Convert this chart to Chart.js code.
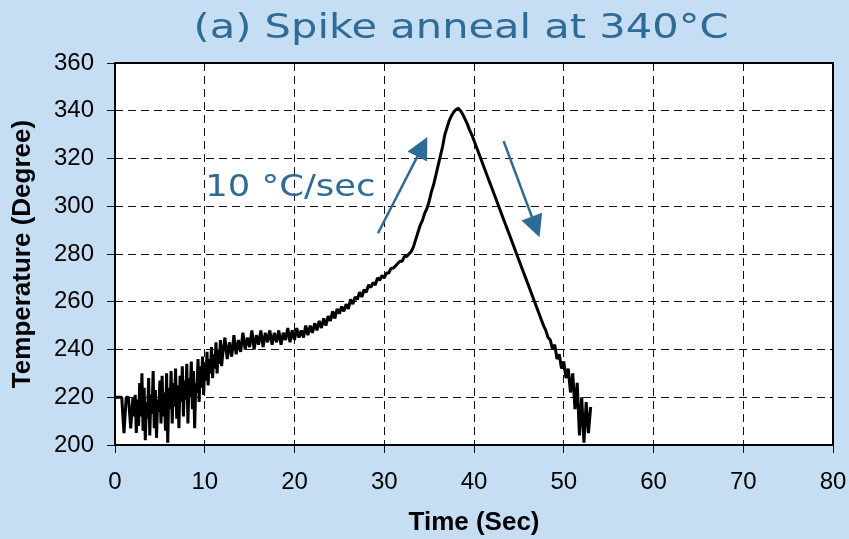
<!DOCTYPE html>
<html>
<head>
<meta charset="utf-8">
<script src="https://cdn.jsdelivr.net/npm/chart.js@4.4.1/dist/chart.umd.min.js"></script>
<style>
  html, body { margin: 0; padding: 0; background: #c6def4; }
</style>
</head>
<body>
<canvas id="spikeChart" width="849" height="539"></canvas>
<script>
const time = [
  0, 0.25, 0.5, 0.75, 1, 1.25, 1.5, 1.75,
  2, 2.125, 2.25, 2.375, 2.5, 2.625, 2.75, 2.875, 3, 3.125, 3.25, 3.375, 3.5, 3.625, 3.75, 3.875,
  4, 4.125, 4.25, 4.375, 4.5, 4.625, 4.75, 4.875, 5, 5.125, 5.25, 5.375, 5.5, 5.625, 5.75, 5.875,
  6, 6.125, 6.25, 6.375, 6.5, 6.625, 6.75, 6.875, 7, 7.125, 7.25, 7.375, 7.5, 7.625, 7.75, 7.875,
  8, 8.125, 8.25, 8.375, 8.5, 8.625, 8.75, 8.875, 9, 9.125, 9.25, 9.375, 9.5, 9.625, 9.75, 9.875,
  10, 10.125, 10.25, 10.375, 10.5, 10.625, 10.75, 10.875, 11, 11.125, 11.25, 11.375, 11.5, 11.625, 11.75, 11.875,
  12, 12.25, 12.5, 12.75, 13, 13.25, 13.5, 13.75, 14, 14.25, 14.5, 14.75, 15, 15.25, 15.5, 15.75,
  16, 16.25, 16.5, 16.75, 17, 17.25, 17.5, 17.75, 18, 18.25, 18.5, 18.75, 19, 19.25, 19.5, 19.75,
  20, 20.25, 20.5, 20.75, 21, 21.25, 21.5, 21.75, 22, 22.25, 22.5, 22.75, 23, 23.25, 23.5, 23.75,
  24, 24.25, 24.5, 24.75, 25, 25.25, 25.5, 25.75, 26, 26.25, 26.5, 26.75, 27, 27.25, 27.5, 27.75,
  28, 28.25, 28.5, 28.75, 29, 29.25, 29.5, 29.75, 30, 30.25, 30.5, 30.75, 31, 31.25, 31.5, 31.75,
  32, 32.25, 32.5, 32.75, 33, 33.25, 33.5, 33.75, 34, 34.25, 34.5, 34.75, 35, 35.25, 35.5, 35.75,
  36, 36.25, 36.5, 36.75, 37, 37.25, 37.5, 37.75, 38, 38.25, 38.5, 38.75, 39, 39.25, 39.5, 39.75,
  40, 40.25, 40.5, 40.75, 41, 41.25, 41.5, 41.75, 42, 42.25, 42.5, 42.75, 43, 43.25, 43.5, 43.75,
  44, 44.25, 44.5, 44.75, 45, 45.25, 45.5, 45.75, 46, 46.25, 46.5, 46.75, 47, 47.25, 47.5, 47.75,
  48, 48.25, 48.5, 48.75, 49, 49.25, 49.5, 49.75, 50, 50.25, 50.5, 50.75, 51, 51.25, 51.5, 51.75,
  52, 52.25, 52.5, 52.75, 53
];

const temp = [
  220, 220, 220, 220, 205, 220, 220, 207,
  220, 212, 221, 205, 219, 208, 226, 212, 230, 206, 224, 202, 218, 211, 228, 204,
  221, 213, 231, 207, 223, 203, 219, 214, 227, 209, 229, 212, 222, 206, 230, 201,
  224, 215, 231, 209, 226, 216, 232, 211, 225, 207, 229, 218, 233, 212, 227, 219,
  234, 209, 228, 220, 235, 215, 231, 207, 226, 222, 236, 218, 233, 224, 237, 221,
  234, 227, 239, 225, 236, 230, 241, 228, 238, 232, 243, 230, 240, 234, 244, 233,
  238, 245, 236, 243, 237, 246, 238, 244, 239, 247, 240, 245, 241, 248, 240, 246,
  242, 248, 241, 247, 243, 248, 242, 247, 243, 248, 242, 247, 244, 249, 243, 248,
  244, 249, 245, 248, 245, 250, 246, 250, 247, 251, 248, 252, 249, 253, 250, 254,
  252, 256, 253, 257, 255, 258, 256, 259, 257, 261, 259, 262, 261, 264, 262, 265,
  264, 267, 266, 268, 267, 270, 269, 271, 270, 272, 272, 274, 274, 275, 276, 277,
  277, 279, 279, 280, 281, 283, 286, 289, 292, 294, 297, 299, 302, 306, 309, 313,
  317, 321, 325, 330, 333, 336, 338, 339.5, 340.5, 341, 340, 338.5, 336.5, 334.5, 332, 330,
  327.5, 325, 322.5, 320, 317.5, 315, 312.5, 310, 307.5, 305, 302.5, 300, 297.5, 295, 292.5, 290,
  287.5, 285, 282.5, 280, 277.5, 275, 272.5, 270, 267.5, 265, 262.5, 260, 257.5, 255, 252.5, 250,
  248, 245, 244, 240, 242, 236, 238, 232, 235, 228, 232, 222, 230, 215, 226, 204,
  220, 201, 218, 205, 216
];

const xTicks = [0, 80, 10];     // min, max, step
const yTicks = [200, 360, 20];

// annotation arrows in data units: [tailTime, tailTemp, tipTime, tipTemp]
const rampUpArrow = [29.3, 288.7, 34.8, 329.0];
const rampDownArrow = [43.3, 327.3, 47.3, 287.0];
const rateLabel = ['10 \u00B0C/sec', 10.05, 304.2];
const chartTitle = '(a) Spike anneal at 340\u00B0C';

const blue = '#2e6b96';

function drawArrow(ctx, x, y, a) {
  const x1 = x.getPixelForValue(a[0]), y1 = y.getPixelForValue(a[1]);
  const x2 = x.getPixelForValue(a[2]), y2 = y.getPixelForValue(a[3]);
  const len = Math.hypot(x2 - x1, y2 - y1);
  const ux = (x2 - x1) / len, uy = (y2 - y1) / len;
  const headLen = 22, headHalf = 11;
  const bx = x2 - ux * headLen, by = y2 - uy * headLen;
  ctx.strokeStyle = blue;
  ctx.fillStyle = blue;
  ctx.lineWidth = 2.5;
  ctx.beginPath();
  ctx.moveTo(x1, y1);
  ctx.lineTo(bx + ux * 2, by + uy * 2);
  ctx.stroke();
  ctx.beginPath();
  ctx.moveTo(x2, y2);
  ctx.lineTo(bx - uy * headHalf, by + ux * headHalf);
  ctx.lineTo(bx + uy * headHalf, by - ux * headHalf);
  ctx.closePath();
  ctx.fill();
}

// the source picture is a bit wide, so text is stretched sideways
function wideText(ctx, text, x, y, font, sx, align) {
  ctx.save();
  ctx.font = font;
  ctx.fillStyle = blue;
  ctx.textAlign = align;
  ctx.textBaseline = 'alphabetic';
  ctx.translate(x, y);
  ctx.scale(sx, 1);
  ctx.fillText(text, 0, 0);
  ctx.restore();
}

const chartDecor = {
  id: 'chartDecor',
  beforeDraw(chart) {
    const ctx = chart.ctx, a = chart.chartArea;
    ctx.save();
    ctx.fillStyle = '#c6def4';
    ctx.fillRect(0, 0, chart.width, chart.height);
    ctx.fillStyle = '#ffffff';
    ctx.fillRect(a.left, a.top, a.right - a.left, a.bottom - a.top);
    ctx.restore();
  },
  afterDatasetsDraw(chart) {
    const ctx = chart.ctx, a = chart.chartArea;
    const x = chart.scales.x, y = chart.scales.y;
    ctx.save();
    // plot frame
    ctx.strokeStyle = '#000';
    ctx.lineWidth = 2;
    ctx.strokeRect(a.left, a.top, a.right - a.left, a.bottom - a.top);
    // arrows + rate label
    drawArrow(ctx, x, y, rampUpArrow);
    drawArrow(ctx, x, y, rampDownArrow);
    wideText(ctx, rateLabel[0], x.getPixelForValue(rateLabel[1]), y.getPixelForValue(rateLabel[2]),
      '30px "DejaVu Sans"', 1.18, 'left');
    // title
    wideText(ctx, chartTitle, 461, 38, '33px "DejaVu Sans"', 1.26, 'center');
    ctx.restore();
  }
};

const points = time.map((t, i) => ({ x: t, y: temp[i] }));

new Chart(document.getElementById('spikeChart'), {
  type: 'line',
  data: {
    datasets: [{
      label: 'Temperature',
      data: points,
      borderColor: '#000',
      borderWidth: 3,
      borderJoinStyle: 'bevel',
      pointRadius: 0,
      tension: 0
    }]
  },
  options: {
    responsive: false,
    animation: false,
    devicePixelRatio: 1,
    layout: { padding: { left: 0, right: 16, top: 63, bottom: 0 } },
    plugins: {
      legend: { display: false },
      tooltip: { enabled: false },
      title: { display: false }
    },
    scales: {
      x: {
        type: 'linear',
        min: xTicks[0],
        max: xTicks[1],
        afterFit(scale) {
          scale.height = 94;
          scale.paddingLeft = 0;
          scale.paddingRight = 0;
        },
        ticks: {
          stepSize: xTicks[2],
          color: '#000',
          padding: 15,
          maxRotation: 0,
          font: { family: 'Liberation Sans', size: 24 }
        },
        grid: { color: '#111', lineWidth: 1, tickLength: 8 },
        border: { display: false, dash: [8, 5] },
        title: {
          display: true,
          text: 'Time (Sec)',
          color: '#000',
          font: { family: 'Liberation Sans', size: 26, weight: 'bold' },
          padding: { top: 0, bottom: 1 }
        }
      },
      y: {
        min: yTicks[0],
        max: yTicks[1],
        afterFit(scale) {
          scale.width = 115;
          scale.paddingTop = 0;
          scale.paddingBottom = 0;
        },
        ticks: {
          stepSize: yTicks[2],
          color: '#000',
          padding: 13,
          font: { family: 'Liberation Sans', size: 24 }
        },
        grid: { color: '#111', lineWidth: 1, tickLength: 8 },
        border: { display: false, dash: [8, 5] },
        title: {
          display: true,
          text: 'Temperature (Degree)',
          color: '#000',
          font: { family: 'Liberation Sans', size: 26, weight: 'bold' },
          padding: { top: 7, bottom: 0 }
        }
      }
    }
  },
  plugins: [chartDecor]
});
</script>
</body>
</html>
